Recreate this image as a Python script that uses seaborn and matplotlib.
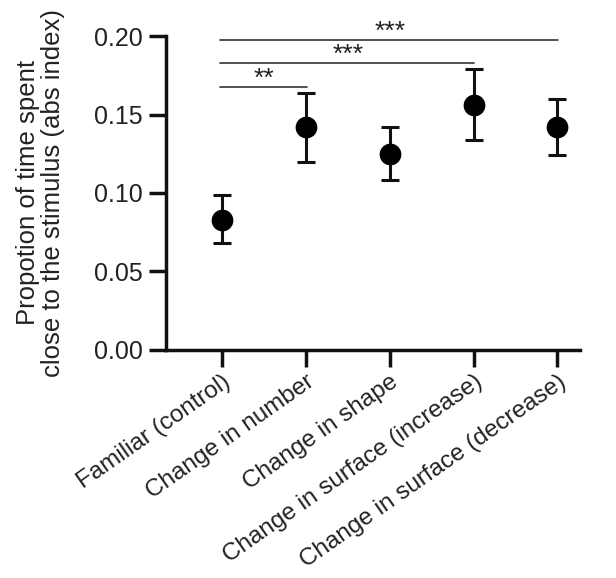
import numpy as np
import pandas as pd
import matplotlib.pyplot as plt
import seaborn as sns

conditions = ["Familiar (control)", "Change in number", "Change in shape",
              "Change in surface (increase)", "Change in surface (decrease)"]
means = [0.083, 0.142, 0.125, 0.156, 0.142]
err_low = [0.068, 0.120, 0.108, 0.134, 0.124]
err_high = [0.099, 0.164, 0.142, 0.179, 0.160]

# significance brackets: (from, to, height, label)
sig_from = [0, 0, 0]
sig_to = [1, 3, 4]
sig_y = [0.1677, 0.1826, 0.1975]
sig_txt = ["**", "***", "***"]

df = pd.DataFrame({"cond": conditions, "mean": means, "lo": err_low, "hi": err_high})

sns.set_style("ticks")
plt.rcParams['font.family'] = ['Liberation Sans', 'DejaVu Sans']

fig = plt.figure(figsize=(6.16, 5.78), dpi=100)
ax = fig.add_axes([0.2695, 0.3945, 0.672, 0.5432])

x = np.arange(len(df))
ax.errorbar(x, df["mean"], yerr=[df["mean"] - df["lo"], df["hi"] - df["mean"]],
            fmt="none", ecolor="#111111", elinewidth=2.2, capsize=6.5, capthick=2.2, zorder=2)
sns.scatterplot(data=df, x="cond", y="mean", ax=ax, color="black", s=210,
                edgecolor="black", zorder=3, legend=False)

for a, b, h, t in zip(sig_from, sig_to, sig_y, sig_txt):
    ax.plot([x[a] - 0.03, x[b] + 0.01], [h, h], color="#333333", lw=1.2)
    ax.text((x[a] + x[b]) / 2, h - 0.0025, t, ha="center", va="bottom",
            fontsize=19, color="#222222")

ax.set_xlim(-0.67, 4.27)
ax.set_ylim(0, 0.2)
ax.set_yticks([0, 0.05, 0.10, 0.15, 0.20])
ax.set_yticklabels(["0.00", "0.05", "0.10", "0.15", "0.20"])
ax.set_xticks(x)
ax.set_xticklabels(conditions, rotation=35, ha="right", rotation_mode="anchor")
ax.set_xlabel("")
ax.set_ylabel("Propotion of time spent\nclose to the stimulus (abs index)",
              fontsize=18.5, color="#222222", linespacing=1.05)
ax.yaxis.set_label_coords(-0.245, 0.5)

ax.tick_params(axis="both", direction="out", length=12, width=2.5, color="#111111",
               labelsize=18, labelcolor="#222222", pad=5)
ax.tick_params(axis="x", labelsize=17.5, pad=3)
for s in ["left", "bottom"]:
    ax.spines[s].set_linewidth(2.5)
    ax.spines[s].set_color("#111111")
sns.despine(ax=ax)

fig.savefig("out.png", dpi=100)
